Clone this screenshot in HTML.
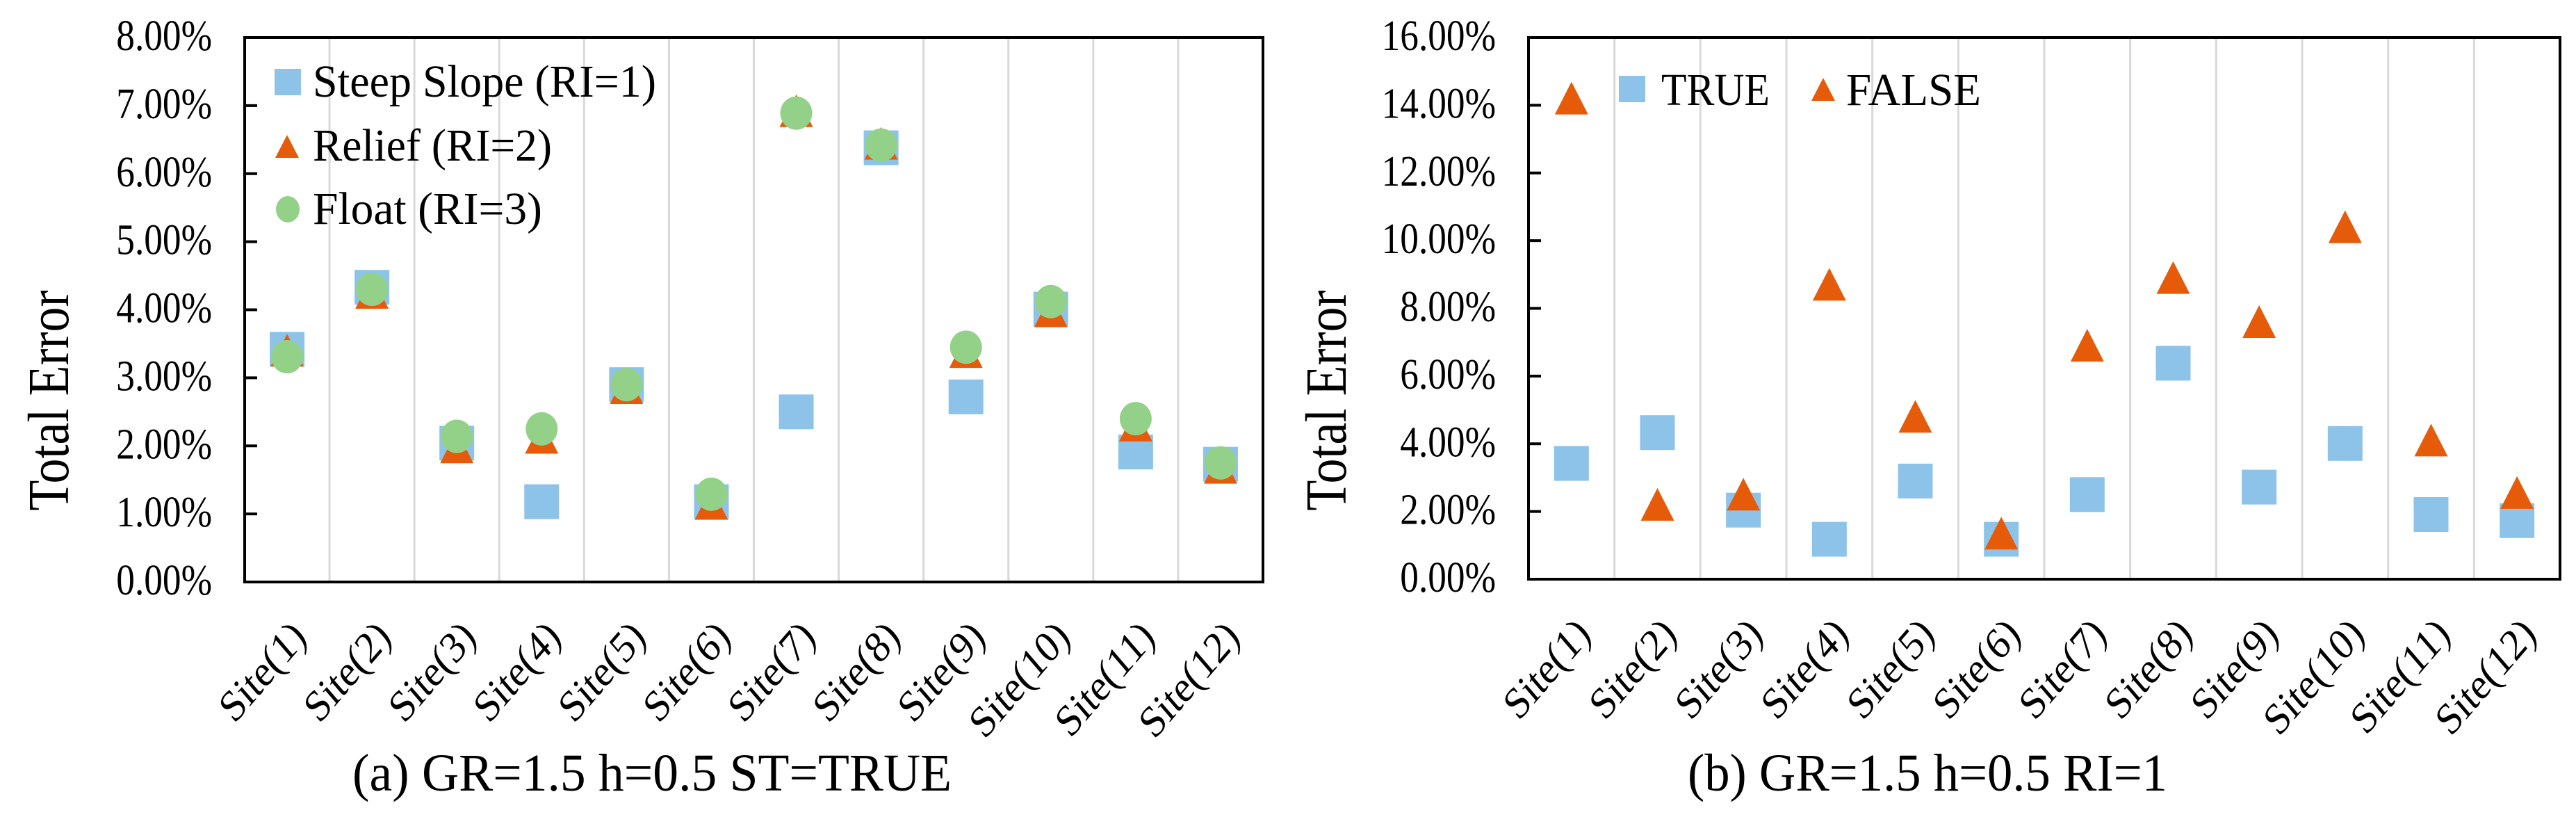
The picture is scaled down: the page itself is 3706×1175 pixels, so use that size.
<!DOCTYPE html>
<html><head><meta charset="utf-8"><style>
html,body{margin:0;padding:0;background:#fff;}
svg{display:block;font-family:"Liberation Serif",serif;}
</style></head><body>
<svg id="c" width="3706" height="1175" viewBox="0 0 3706 1175" xmlns="http://www.w3.org/2000/svg"></svg>
<script>
const categories = ["Site(1)","Site(2)","Site(3)","Site(4)","Site(5)","Site(6)","Site(7)","Site(8)","Site(9)","Site(10)","Site(11)","Site(12)"];
const steepSlope = [3.42,4.33,2.04,1.18,2.90,1.18,2.50,6.38,2.72,4.01,1.91,1.73];
const relief = [3.40,4.25,1.98,2.12,2.85,1.15,6.92,6.44,3.38,3.98,2.30,1.68];
const floatRI = [3.31,4.30,2.14,2.25,2.90,1.29,6.89,6.42,3.45,4.12,2.40,1.75];
const trueVals = [3.42,4.33,2.04,1.18,2.90,1.18,2.50,6.38,2.72,4.01,1.91,1.73];
const falseVals = [14.2,2.2,2.5,8.7,4.8,1.35,6.9,8.9,7.6,10.4,4.1,2.55];
const ticksA = ["0.00%","1.00%","2.00%","3.00%","4.00%","5.00%","6.00%","7.00%","8.00%"];
const ticksB = ["0.00%","2.00%","4.00%","6.00%","8.00%","10.00%","12.00%","14.00%","16.00%"];

const BLUE="#8DC3E9", ORANGE="#E65B0A", GREEN="#93D189";
const SX=0.86;
const NS="http://www.w3.org/2000/svg";
const svg=document.getElementById('c');
function mk(tag,attrs,parent){const e=document.createElementNS(NS,tag);for(const k in attrs)e.setAttribute(k,attrs[k]);(parent||svg).appendChild(e);return e;}

function panel(p){
  const g=mk('g',{});
  
  
  const n=categories.length, bw=(p.x1-p.x0)/n;
  const xc=i=>p.x0+bw*(i+0.5);
  const ys=v=>p.y1-(v/p.max)*(p.y1-p.y0);
  for(let i=1;i<n;i++){
    const l=mk('line',{x1:p.x0+bw*i,x2:p.x0+bw*i,y1:p.y0,y2:p.y1,stroke:'#d9d9d9','stroke-width':3},g);
    
    
  }
  const fr=mk('rect',{x:p.x0,y:p.y0,width:p.x1-p.x0,height:p.y1-p.y0,fill:'none',stroke:'#000','stroke-width':4},g);
  
  
  p.ticks.forEach((t,i)=>{
    const v=p.max*i/(p.ticks.length-1), y=ys(v);
    const tk=mk('line',{x1:p.x0,x2:p.x0+18,y1:y,y2:y,stroke:'#000','stroke-width':4},g);
    
    
    const tx=mk('text',{x:0,y:0,'font-size':62,'text-anchor':'end',fill:'#000',transform:`translate(${p.x0-47},${y+18}) scale(${SX},1)`},g);
    tx.textContent=t;
    
    
  });
  categories.forEach((c,i)=>{
    const ax=xc(i)+30, ay=p.y1+82;
    const tx=mk('text',{x:0,y:0,'font-size':64,'text-anchor':'end',fill:'#000',transform:`translate(${ax},${ay}) scale(${SX},1) rotate(-45)`},g);
    tx.textContent=c;
    
    
  });
  const tt=mk('text',{x:0,y:0,'font-size':84,'text-anchor':'middle',fill:'#000',textLength:317,lengthAdjust:'spacingAndGlyphs',transform:`translate(${p.titleX},576) rotate(-90)`},g);
  tt.textContent='Total Error';
  
  
  const cp=mk('text',{x:p.capX0,y:1137,'font-size':76,fill:'#000',textLength:p.capW,lengthAdjust:'spacingAndGlyphs'},g);
  cp.textContent=p.caption;
  
  
  p.series.forEach(s=>{
    const sg=mk('g',{},g);
    
    
    s.data.forEach((v,i)=>{
      const m=marker(s.shape,xc(i),ys(v),sg);
      
      
    });
  });
  p.legend.forEach(L=>{
    const lg=mk('g',{},g);
    
    
    legendMarker(L.shape,L.mx,L.my,lg);
    const tx=mk('text',{x:L.tx,y:L.ty,'font-size':L.fs,fill:'#000',textLength:L.tw,lengthAdjust:'spacingAndGlyphs'},lg);
    tx.textContent=L.text;
    
    
  });
}
function marker(shape,x,y,g){
  if(shape==='sq') return mk('rect',{x:x-25,y:y-25,width:50,height:50,fill:BLUE},g);
  if(shape==='tri') return mk('polygon',{points:`${x},${y-24} ${x+24},${y+23} ${x-24},${y+23}`,fill:ORANGE},g);
  return mk('ellipse',{cx:x,cy:y,rx:23,ry:24,fill:GREEN},g);
}
function legendMarker(shape,x,y,g){
  let m;
  if(shape==='sq') m=mk('rect',{x:x-19,y:y-19,width:38,height:38,fill:BLUE},g);
  else if(shape==='tri') m=mk('polygon',{points:`${x},${y-17} ${x+17},${y+16} ${x-17},${y+16}`,fill:ORANGE},g);
  else m=mk('ellipse',{cx:x,cy:y,rx:17,ry:19,fill:GREEN},g);
  
  
}

panel({name:'chart-a',x0:352,x1:1817,y0:54,y1:837,max:8,ticks:ticksA,titleX:98,
  caption:'(a) GR=1.5 h=0.5 ST=TRUE',capX0:507,capW:862,
  series:[{key:'steep-slope',shape:'sq',data:steepSlope},{key:'relief',shape:'tri',data:relief},{key:'float',shape:'ci',data:floatRI}],
  legend:[
    {shape:'sq',mx:414,my:118,tx:450,ty:139,fs:66,tw:494,text:'Steep Slope (RI=1)'},
    {shape:'tri',mx:413,my:211,tx:450,ty:231,fs:66,tw:344,text:'Relief (RI=2)'},
    {shape:'ci',mx:414,my:301,tx:450,ty:322,fs:66,tw:330,text:'Float (RI=3)'}
  ]});
panel({name:'chart-b',x0:2199,x1:3683,y0:54,y1:833,max:16,ticks:ticksB,titleX:1936,
  caption:'(b) GR=1.5 h=0.5 RI=1',capX0:2428,capW:690,
  series:[{key:'true',shape:'sq',data:trueVals},{key:'false',shape:'tri',data:falseVals}],
  legend:[
    {shape:'sq',mx:2348,my:128,tx:2390,ty:151,fs:66,tw:156,text:'TRUE'},
    {shape:'tri',mx:2623,my:129,tx:2656,ty:151,fs:66,tw:194,text:'FALSE'}
  ]});
</script>
</body></html>
